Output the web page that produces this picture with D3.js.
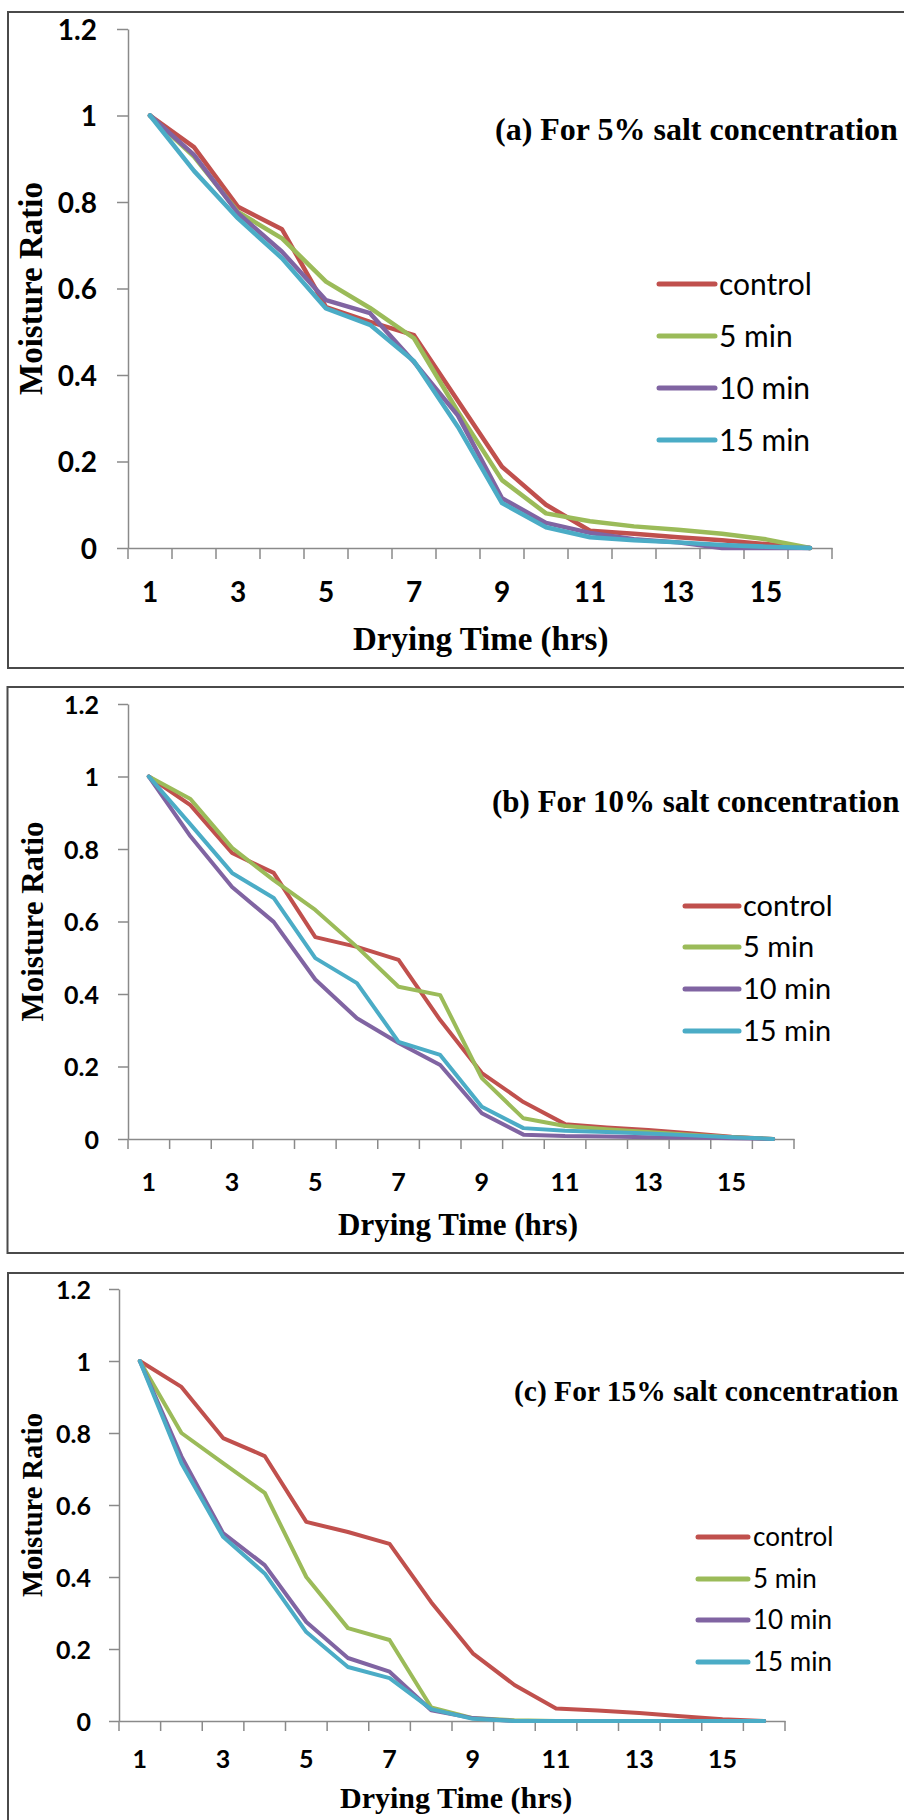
<!DOCTYPE html>
<html>
<head>
<meta charset="utf-8">
<script src="https://cdn.jsdelivr.net/npm/d3@7"></script>
<style>
  html, body { margin: 0; padding: 0; background: #ffffff; }
  svg { display: block; }
</style>
</head>
<body>
<svg id="chart" width="904" height="1820"></svg>
<script>
// ---------------- DATA ----------------
const categories = [1, 2, 3, 4, 5, 6, 7, 8, 9, 10, 11, 12, 13, 14, 15, 16];
const xTickLabels = ["1", "3", "5", "7", "9", "11", "13", "15"];
const yTickValues = [0, 0.2, 0.4, 0.6, 0.8, 1, 1.2];
const yTickLabels = ["0", "0.2", "0.4", "0.6", "0.8", "1", "1.2"];
const seriesNames = ["control", "5 min", "10 min", "15 min"];
const seriesColors = ["#C0504D", "#9BBB59", "#8064A2", "#4BACC6"];
const panelTitles = ["(a) For 5% salt concentration", "(b) For 10% salt concentration", "(c) For 15% salt concentration"];
const xAxisTitle = "Drying Time (hrs)";
const yAxisTitle = "Moisture Ratio";

// (a) 5% salt
const salt5_control = [1, 0.927, 0.789, 0.737, 0.557, 0.523, 0.492, 0.34, 0.188, 0.10, 0.04, 0.033, 0.025, 0.018, 0.009, 0];
const salt5_5min    = [1, 0.905, 0.777, 0.716, 0.616, 0.555, 0.485, 0.315, 0.157, 0.08, 0.062, 0.05, 0.042, 0.033, 0.02, 0];
const salt5_10min   = [1, 0.909, 0.774, 0.685, 0.573, 0.543, 0.43, 0.306, 0.115, 0.058, 0.035, 0.02, 0.013, 0, 0, 0];
const salt5_15min   = [1, 0.872, 0.762, 0.67, 0.554, 0.516, 0.432, 0.28, 0.104, 0.048, 0.025, 0.018, 0.013, 0.007, 0.003, 0];

// (b) 10% salt
const salt10_control = [1, 0.921, 0.789, 0.734, 0.557, 0.53, 0.494, 0.328, 0.182, 0.102, 0.041, 0.032, 0.025, 0.016, 0.006, 0];
const salt10_5min    = [1, 0.938, 0.803, 0.714, 0.632, 0.53, 0.42, 0.397, 0.168, 0.057, 0.036, 0.027, 0.019, 0.012, 0.005, 0];
const salt10_10min   = [1, 0.835, 0.695, 0.599, 0.44, 0.333, 0.265, 0.204, 0.071, 0.012, 0.008, 0.007, 0.005, 0.004, 0.002, 0];
const salt10_15min   = [1, 0.868, 0.734, 0.665, 0.499, 0.43, 0.268, 0.232, 0.089, 0.03, 0.023, 0.019, 0.015, 0.01, 0.005, 0];

// (c) 15% salt
const salt15_control = [1, 0.928, 0.786, 0.736, 0.553, 0.525, 0.492, 0.33, 0.188, 0.1, 0.035, 0.029, 0.022, 0.013, 0.005, 0];
const salt15_5min    = [1, 0.8, 0.716, 0.634, 0.40, 0.258, 0.225, 0.038, 0.008, 0.002, 0, 0, 0, 0, 0, 0];
const salt15_10min   = [1, 0.735, 0.522, 0.433, 0.275, 0.175, 0.137, 0.03, 0.008, 0, 0, 0, 0, 0, 0, 0];
const salt15_15min   = [1, 0.716, 0.512, 0.41, 0.247, 0.15, 0.119, 0.033, 0.006, 0, 0, 0, 0, 0, 0, 0];

// ---------------- LAYOUT ----------------
const panels = [
  {
    series: [salt5_control, salt5_5min, salt5_10min, salt5_15min], title: panelTitles[0],
    box: [8, 12, 920, 656], x0: 128, x1: 832, yb: 548, yt: 29,
    tickFont: 28, tickPad: 20, xLabelDy: 44, tickLen: 11,
    titleX: 495, titleY: 140, titleFont: 32,
    xtX: 353, xtY: 650, xtFont: 33,
    ytX: 42, ytY: 288.5, ytFont: 33,
    legX0: 659, legX1: 715, legTx: 719, legY: [284, 336, 388, 440], legFont: 30, lineW: 4.5
  },
  {
    series: [salt10_control, salt10_5min, salt10_10min, salt10_15min], title: panelTitles[1],
    box: [7.5, 687, 920, 566], x0: 128, x1: 794, yb: 1139, yt: 704,
    tickFont: 25, tickPad: 19, xLabelDy: 43, tickLen: 10,
    titleX: 492, titleY: 812, titleFont: 31,
    xtX: 338, xtY: 1235, xtFont: 31,
    ytX: 43, ytY: 921.5, ytFont: 31,
    legX0: 685, legX1: 739, legTx: 743, legY: [906, 947, 989, 1031], legFont: 29, lineW: 4
  },
  {
    series: [salt15_control, salt15_5min, salt15_10min, salt15_15min], title: panelTitles[2],
    box: [8, 1273, 920, 620], x0: 119, x1: 785, yb: 1721, yt: 1289,
    tickFont: 25, tickPad: 18, xLabelDy: 38, tickLen: 10,
    titleX: 514, titleY: 1401, titleFont: 29.5,
    xtX: 340, xtY: 1808, xtFont: 30,
    ytX: 42, ytY: 1505, ytFont: 28.5,
    legX0: 698, legX1: 748, legTx: 753, legY: [1537, 1579, 1620, 1662], legFont: 26, lineW: 4
  }
];

const svg = d3.select("#chart");
svg.append("rect").attr("width", 904).attr("height", 1820).attr("fill", "#ffffff");

const axisColor = "#8a8a8a";
const sansFont = "Lato, 'Noto Sans', sans-serif";
const serifFont = "'Liberation Serif', 'DejaVu Serif', serif";

panels.forEach(p => {
  const g = svg.append("g");

  // frame
  g.append("rect")
    .attr("x", p.box[0]).attr("y", p.box[1])
    .attr("width", p.box[2]).attr("height", p.box[3])
    .attr("fill", "none").attr("stroke", "#4a4a4a").attr("stroke-width", 2);

  const x = d3.scaleBand().domain(categories).range([p.x0, p.x1]).padding(0);
  const y = d3.scaleLinear().domain([0, 1.2]).range([p.yb, p.yt]);

  // y axis
  const yAxis = d3.axisLeft(y)
    .tickValues(yTickValues)
    .tickFormat((d, i) => yTickLabels[i])
    .tickSize(p.tickLen)
    .tickSizeOuter(0)
    .tickPadding(p.tickPad);
  const yg = g.append("g").attr("transform", `translate(${p.x0},0)`).call(yAxis);
  yg.select(".domain").attr("stroke", axisColor).attr("stroke-width", 1.5);
  yg.selectAll(".tick line").attr("stroke", axisColor).attr("stroke-width", 1.5);
  yg.selectAll(".tick text")
    .attr("font-family", sansFont).attr("font-weight", 700)
    .attr("font-size", p.tickFont).attr("fill", "#000").attr("dy", "0.36em");

  // x axis (category axis: labels at centres, tick marks at boundaries)
  const xAxis = d3.axisBottom(x)
    .tickSize(0).tickSizeOuter(0)
    .tickFormat(d => xTickLabels.includes(String(d)) ? String(d) : "");
  const xg = g.append("g").attr("transform", `translate(0,${p.yb})`).call(xAxis);
  xg.select(".domain").attr("stroke", axisColor).attr("stroke-width", 1.5);
  xg.selectAll(".tick text")
    .attr("font-family", sansFont).attr("font-weight", 700)
    .attr("font-size", p.tickFont).attr("fill", "#000")
    .attr("y", p.xLabelDy).attr("dy", "0.36em");
  const bounds = categories.map(c => x(c)).concat([x(categories[categories.length - 1]) + x.bandwidth()]);
  g.selectAll(".xb").data(bounds).enter().append("line")
    .attr("x1", d => d).attr("x2", d => d)
    .attr("y1", p.yb).attr("y2", p.yb + p.tickLen)
    .attr("stroke", axisColor).attr("stroke-width", 1.5);

  // series lines
  const line = d3.line()
    .x((d, i) => x(categories[i]) + x.bandwidth() / 2)
    .y(d => y(d));
  p.series.forEach((s, k) => {
    g.append("path").datum(s)
      .attr("d", line)
      .attr("fill", "none")
      .attr("stroke", seriesColors[k])
      .attr("stroke-width", p.lineW)
      .attr("stroke-linejoin", "round")
      .attr("stroke-linecap", "round");
  });

  // panel title
  g.append("text")
    .attr("x", p.titleX).attr("y", p.titleY)
    .attr("font-family", serifFont).attr("font-weight", 700)
    .attr("font-size", p.titleFont).attr("fill", "#000")
    .text(p.title);

  // x axis title
  g.append("text")
    .attr("x", p.xtX).attr("y", p.xtY)
    .attr("font-family", serifFont).attr("font-weight", 700)
    .attr("font-size", p.xtFont).attr("fill", "#000")
    .text(xAxisTitle);

  // y axis title
  g.append("text")
    .attr("transform", `translate(${p.ytX},${p.ytY}) rotate(-90)`)
    .attr("text-anchor", "middle")
    .attr("font-family", serifFont).attr("font-weight", 700)
    .attr("font-size", p.ytFont).attr("fill", "#000")
    .text(yAxisTitle);

  // legend
  seriesNames.forEach((name, k) => {
    g.append("line")
      .attr("x1", p.legX0).attr("x2", p.legX1)
      .attr("y1", p.legY[k]).attr("y2", p.legY[k])
      .attr("stroke", seriesColors[k]).attr("stroke-width", 5)
      .attr("stroke-linecap", "round");
    g.append("text")
      .attr("x", p.legTx).attr("y", p.legY[k]).attr("dy", "0.36em")
      .attr("font-family", sansFont).attr("font-weight", 400)
      .attr("font-size", p.legFont).attr("fill", "#000")
      .text(name);
  });
});
</script>
</body>
</html>
